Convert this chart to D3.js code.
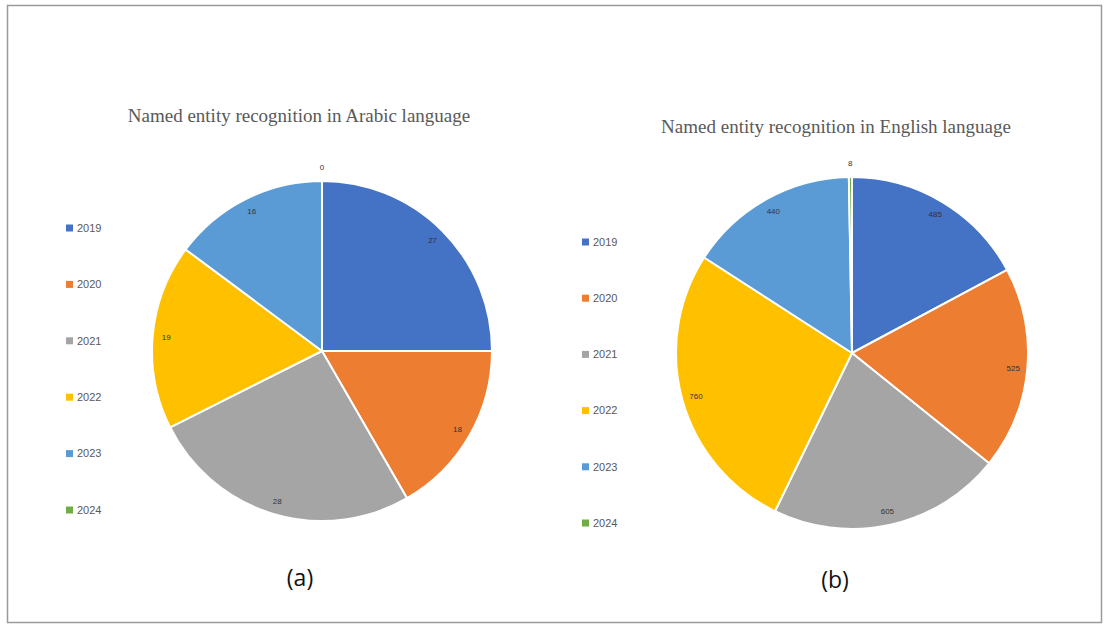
<!DOCTYPE html>
<html>
<head>
<meta charset="utf-8">
<script src="https://cdn.jsdelivr.net/npm/d3@7"></script>
<style>
  body { margin: 0; background: #fff; }
  svg { display: block; }
</style>
</head>
<body>
<svg id="chart" width="1109" height="630"></svg>
<script>
const years = ["2019", "2020", "2021", "2022", "2023", "2024"];
const arabic_values = [27, 18, 28, 19, 16, 0];
const english_values = [485, 525, 605, 760, 440, 8];
const colors = ["#4472C4", "#ED7D31", "#A5A5A5", "#FFC000", "#5B9BD5", "#70AD47"];

const svg = d3.select("#chart");

// outer frame of the figure
svg.append("rect")
  .attr("x", 7.5).attr("y", 5.5)
  .attr("width", 1094).attr("height", 617)
  .attr("fill", "none")
  .attr("stroke", "#9a9a9a")
  .attr("stroke-width", 1.5);

const color = d3.scaleOrdinal().domain(years).range(colors);

const draw_pie = function(cfg){
  const g = svg.append("g");

  g.append("text")
    .attr("x", cfg.title_x).attr("y", cfg.title_y)
    .attr("text-anchor", "middle")
    .attr("font-family", "Liberation Serif, Times New Roman, serif")
    .attr("font-size", 19)
    .attr("fill", "#595959")
    .text(cfg.title);

  const data = years.map((y, i) => ({ year: y, value: cfg.values[i] }));
  const pie = d3.pie().sort(null).value((d) => d.value);
  const arcs = pie(data);
  const arc = d3.arc().innerRadius(0).outerRadius(cfg.r);

  const pg = g.append("g")
    .attr("transform", `translate(${cfg.cx},${cfg.cy})`);

  pg.selectAll("path")
    .data(arcs)
    .join("path")
    .attr("d", arc)
    .attr("fill", (d) => color(d.data.year))
    .attr("stroke", "#fff")
    .attr("stroke-width", 2);

  // data labels near the rim, tiny slices pushed outside
  pg.selectAll("text.lbl")
    .data(arcs)
    .join("text")
    .attr("class", "lbl")
    .attr("transform", (d) => {
      const small = (d.endAngle - d.startAngle) < 0.1;
      const rr = small ? cfg.r + 14 : cfg.r * 0.92;
      const a = (d.startAngle + d.endAngle) / 2;
      return `translate(${rr * Math.sin(a)},${-rr * Math.cos(a)})`;
    })
    .attr("text-anchor", "middle")
    .attr("dy", "0.35em")
    .attr("font-family", "Liberation Sans, Arial, sans-serif")
    .attr("font-size", 8)
    .attr("fill", "#333")
    .text((d) => d.data.value);

  // legend
  const ly = d3.scalePoint().domain(years).range([cfg.leg_y0, cfg.leg_y1]);
  const lg = g.append("g");
  lg.selectAll("rect")
    .data(years)
    .join("rect")
    .attr("x", cfg.leg_x)
    .attr("y", (d) => ly(d) - 3.5)
    .attr("width", 7).attr("height", 7)
    .attr("fill", (d) => color(d));
  lg.selectAll("text")
    .data(years)
    .join("text")
    .attr("x", cfg.leg_x + 11)
    .attr("y", (d) => ly(d))
    .attr("dy", "0.35em")
    .attr("font-family", "Liberation Sans, Arial, sans-serif")
    .attr("font-size", 11)
    .attr("fill", "#595959")
    .text((d) => d);

  g.append("text")
    .attr("x", cfg.cap_x).attr("y", cfg.cap_y)
    .attr("text-anchor", "middle")
    .attr("font-family", "Open Sans, Liberation Sans, sans-serif")
    .attr("font-size", 23)
    .attr("fill", "#111")
    .text(cfg.caption);
};

draw_pie({
  title: "Named entity recognition in Arabic language",
  values: arabic_values,
  title_x: 299, title_y: 122,
  cx: 322, cy: 351, r: 170,
  leg_x: 66, leg_y0: 228, leg_y1: 510,
  caption: "(a)", cap_x: 300, cap_y: 586
});

draw_pie({
  title: "Named entity recognition in English language",
  values: english_values,
  title_x: 836, title_y: 133,
  cx: 852, cy: 353, r: 176,
  leg_x: 582, leg_y0: 242, leg_y1: 523,
  caption: "(b)", cap_x: 835, cap_y: 588
});
</script>
</body>
</html>
